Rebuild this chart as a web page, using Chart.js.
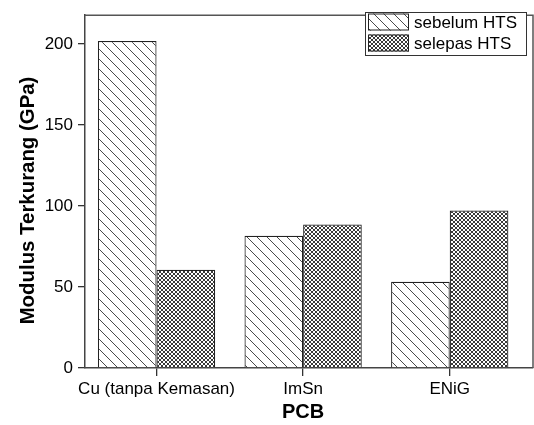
<!DOCTYPE html>
<html>
<head>
<meta charset="utf-8">
<script src="https://cdn.jsdelivr.net/npm/chart.js@4.4.1/dist/chart.umd.min.js"></script>
<style>
  html, body { margin: 0; padding: 0; background: #fff; }
  #wrap { width: 534px; height: 425px; }
</style>
</head>
<body>
<div id="wrap"><canvas id="c" width="534" height="425"></canvas></div>
<script>
// PCB finishes and reduced modulus before / after high temperature storage
const categories = ['Cu (tanpa Kemasan)', 'ImSn', 'ENiG'];
const sebelumHTS = [201.8, 81.6, 53.2];
const selepasHTS = [60.7, 88.6, 97.2];
const seriesLabels = ['sebelum HTS', 'selepas HTS'];
const yTickValues = [0, 50, 100, 150, 200];
const yTitle = 'Modulus Terkurang (GPa)';
const xTitle = 'PCB';

const FONT = "'Liberation Sans', Arial, Helvetica, sans-serif";
const INK = '#333';

// Fill patterns: diagonal hatch and fine cross-hatch
function makeHatch() {
  const t = document.createElement('canvas');
  t.width = 10; t.height = 10;
  const g = t.getContext('2d');
  g.fillStyle = '#fff'; g.fillRect(0, 0, 10, 10);
  g.fillStyle = '#4a4a4a';
  for (let i = 0; i < 10; i++) g.fillRect(i, i, 1, 1);
  return g.createPattern(t, 'repeat');
}
function makeCross() {
  const t = document.createElement('canvas');
  t.width = 4; t.height = 4;
  const g = t.getContext('2d');
  g.fillStyle = '#fff'; g.fillRect(0, 0, 4, 4);
  g.fillStyle = '#3a3a3a';
  for (let i = 0; i < 4; i++) { g.fillRect(i, i, 1, 1); g.fillRect(i, 3 - i, 1, 1); }
  return g.createPattern(t, 'repeat');
}
const hatch = makeHatch();
const cross = makeCross();

const toPoints = arr => arr.map((v, i) => ({ x: i + 1, y: v }));

const framePlugin = {
  id: 'frameAndLabels',
  afterDraw(chart) {
    const { ctx, chartArea: a, scales } = chart;
    ctx.save();
    // top and right frame lines
    ctx.strokeStyle = '#555';
    ctx.lineWidth = 1.5;
    ctx.beginPath();
    ctx.moveTo(a.left, a.top); ctx.lineTo(a.right, a.top); ctx.lineTo(a.right, a.bottom);
    ctx.stroke();

    // legend box
    const lx = 365.5, ly = 12.5, lw = 161, lh = 43;
    ctx.fillStyle = '#fff';
    ctx.fillRect(lx, ly, lw, lh);
    ctx.strokeStyle = INK; ctx.lineWidth = 1;
    ctx.strokeRect(lx, ly, lw, lh);
    const fills = [hatch, cross];
    seriesLabels.forEach((lab, i) => {
      const sy = 13.5 + i * 21;
      ctx.fillStyle = fills[i];
      ctx.fillRect(368, sy, 41, 17);
      ctx.strokeStyle = '#222'; ctx.lineWidth = 1;
      ctx.strokeRect(368.5, sy + 0.5, 40, 16);
      ctx.fillStyle = '#000';
      ctx.font = '17px ' + FONT;
      ctx.textBaseline = 'alphabetic';
      ctx.textAlign = 'left';
      ctx.fillText(lab, 414, sy + 14.5);
    });

    // axis titles
    ctx.fillStyle = '#000';
    ctx.font = 'bold 20px ' + FONT;
    ctx.textAlign = 'center';
    ctx.textBaseline = 'middle';
    ctx.fillText(xTitle, scales.x.getPixelForValue(2), 412);
    ctx.font = 'bold 20.4px ' + FONT;
    ctx.translate(28, 200.5);
    ctx.rotate(-Math.PI / 2);
    ctx.fillText(yTitle, 0, 0);
    ctx.restore();
  }
};

new Chart(document.getElementById('c'), {
  type: 'bar',
  data: {
    datasets: [
      { label: seriesLabels[0], data: toPoints(sebelumHTS), backgroundColor: hatch, borderColor: '#222', borderWidth: 1.2 },
      { label: seriesLabels[1], data: toPoints(selepasHTS), backgroundColor: cross, borderColor: '#222', borderWidth: 1.2 }
    ]
  },
  options: {
    responsive: false,
    devicePixelRatio: 1,
    animation: false,
    layout: { padding: { top: 4, right: 1, left: 0, bottom: 0 } },
    datasets: { bar: { categoryPercentage: 0.8, barPercentage: 1.0 } },
    plugins: { legend: { display: false }, tooltip: { enabled: false } },
    scales: {
      x: {
        type: 'linear',
        min: 0.512,
        max: 3.568,
        offset: false,
        grid: { display: true, offset: false, drawOnChartArea: false, drawTicks: true, tickLength: 8, color: INK, lineWidth: 1.3 },
        border: { display: true, color: '#444', width: 1.5 },
        afterBuildTicks: s => { s.ticks = categories.map((_, i) => ({ value: i + 1 })); },
        afterFit: s => { s.height = 57; },
        ticks: {
          autoSkip: false, maxRotation: 0, padding: 3, color: '#000',
          font: { family: FONT, size: 17 },
          callback: v => categories[Math.round(v) - 1] || ''
        }
      },
      y: {
        min: 0,
        max: 217.8,
        grid: { display: true, drawOnChartArea: false, drawTicks: true, tickLength: 7, color: INK, lineWidth: 1.3 },
        border: { display: true, color: '#444', width: 1.5 },
        afterBuildTicks: s => { s.ticks = yTickValues.map(v => ({ value: v })); },
        afterFit: s => { s.width = 85; },
        ticks: { padding: 5, color: '#000', font: { family: FONT, size: 17 } }
      }
    }
  },
  plugins: [framePlugin]
});
</script>
</body>
</html>
